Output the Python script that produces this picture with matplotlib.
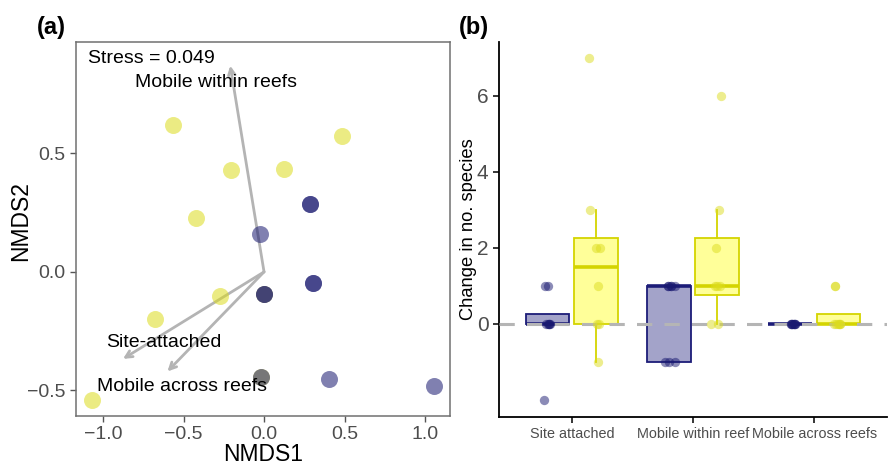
import matplotlib.pyplot as plt

plt.rcParams['font.family'] = ['Liberation Sans', 'DejaVu Sans']

# ---- panel (a): NMDS site scores ----
nmds1 = [-0.565, 0.485, -0.205, 0.124, -0.42, -0.275, -0.677, -1.068, 0.0, -0.02,
         0.286, 0.286, -0.025, 0.303, 0.303, 0.0, 0.0, -0.02, 0.405, 1.056]
nmds2 = [0.62, 0.574, 0.43, 0.434, 0.228, -0.1, -0.2, -0.54, -0.092, -0.443,
         0.288, 0.288, 0.16, -0.047, -0.047, -0.092, -0.092, -0.443, -0.451, -0.481]
site_group = ['yellow'] * 10 + ['blue'] * 10

# fitted vectors
vec_names = ['Mobile within reefs', 'Site-attached', 'Mobile across reefs']
vec_x = [-0.21, -0.876, -0.60]
vec_y = [0.87, -0.367, -0.42]
stress = 0.049

# ---- panel (b): change in number of species ----
categories = ['Site attached', 'Mobile within reef', 'Mobile across reefs']
blue_vals = [[-2, 0, 0, 0, 0, 0, 1, 1],
             [-1, -1, -1, 1, 1, 1, 1, 1],
             [0, 0, 0, 0, 0, 0, 0, 0]]
yellow_vals = [[-1, 0, 0, 1, 2, 2, 3, 7],
               [0, 0, 1, 1, 1, 2, 3, 6],
               [0, 0, 0, 0, 0, 0, 1, 1]]
# jitter offsets
blue_jit = [[-0.025, 0.0, 0.01, 0.02, -0.01, 0.015, -0.022, 0.0],
            [-0.035, 0.0, 0.05, -0.01, 0.02, 0.05, 0.02, -0.01],
            [0.01, 0.04, 0.02, 0.03, 0.01, 0.04, 0.02, 0.03]]
yellow_jit = [[0.02, 0.01, 0.025, 0.02, 0.0, 0.03, -0.05, -0.06],
              [-0.055, 0.01, -0.016, 0.025, 0.0, -0.008, 0.016, 0.03],
              [-0.037, 0.012, 0.0, -0.02, 0.01, 0.005, -0.03, -0.03]]

colors = {'blue': '#191970', 'yellow': '#dcdc1e'}

fig = plt.figure(figsize=(8.9, 4.66), dpi=100)

# ================= (a) =================
ax1 = fig.add_axes([0.0854, 0.1073, 0.4202, 0.8026])
for name, vx, vy in zip(vec_names, vec_x, vec_y):
    ax1.annotate('', xy=(vx, vy), xytext=(0, 0),
                 arrowprops=dict(arrowstyle='->', color='#b4b4b4', lw=2,
                                 mutation_scale=12, shrinkA=0, shrinkB=0),
                 zorder=1)
for x, y, g in zip(nmds1, nmds2, site_group):
    ax1.scatter(x, y, s=150, color=colors[g], alpha=0.55, linewidths=0, zorder=2)

ax1.text(-1.093, 0.899, 'Stress = %.3f' % stress, fontsize=14, va='center', ha='left', zorder=3)
ax1.text(-0.30, 0.80, vec_names[0], fontsize=14, ha='center', va='center', zorder=3)
ax1.text(-0.62, -0.30, vec_names[1], fontsize=14, ha='center', va='center', zorder=3)
ax1.text(-0.51, -0.485, vec_names[2], fontsize=14, ha='center', va='center', zorder=3)

ax1.set_xlim(-1.168, 1.155)
ax1.set_ylim(-0.608, 0.97)
ax1.set_xticks([-1.0, -0.5, 0.0, 0.5, 1.0])
ax1.set_yticks([-0.5, 0.0, 0.5])
ax1.set_xlabel('NMDS1', fontsize=16.5, labelpad=0)
ax1.set_ylabel('NMDS2', fontsize=16.5)
ax1.yaxis.set_label_coords(-0.118, 0.52)
ax1.tick_params(labelsize=14, labelcolor='#4d4d4d', color='#555555', length=4, width=1)
for sp in ax1.spines.values():
    sp.set_color('#707070')
    sp.set_linewidth(1.1)

# ================= (b) =================
ax2 = fig.add_axes([0.5607, 0.1052, 0.4359, 0.8047])
pos = list(range(1, len(categories) + 1))
box_specs = [(blue_vals, blue_jit, -0.2, '#a3a3c9', '#1c1c78', colors['blue']),
             (yellow_vals, yellow_jit, 0.2, '#ffff99', '#d4d400', colors['yellow'])]
for vals, jit, off, fill, edge, pc in box_specs:
    p = [c + off for c in pos]
    ax2.boxplot(vals, positions=p, widths=0.36, patch_artist=True, showfliers=False,
                showcaps=False, manage_ticks=False,
                boxprops=dict(facecolor=fill, edgecolor=edge, linewidth=1.3),
                medianprops=dict(color=edge, linewidth=2.6, solid_capstyle='butt'),
                whiskerprops=dict(color=edge, linewidth=1.3), zorder=2)
    for c, v, j in zip(p, vals, jit):
        ax2.scatter([c + jj for jj in j], v, s=45, color=pc, alpha=0.5,
                    linewidths=0, zorder=4)

ax2.axhline(0, color='#b5b5b5', lw=2.2, dashes=(5, 4), zorder=3)

ax2.set_xlim(0.4, 3.6)
ax2.set_ylim(-2.45, 7.42)
ax2.set_xticks(pos)
ax2.set_xticklabels(categories)
ax2.set_yticks([0, 2, 4, 6])
ax2.set_ylabel('Change in no. species', fontsize=13.2, labelpad=0)
ax2.tick_params(axis='y', labelsize=15, labelcolor='#4d4d4d', length=4, width=1.1)
ax2.tick_params(axis='x', labelsize=10.4, labelcolor='#4d4d4d', length=4, width=1.1)
ax2.spines['top'].set_visible(False)
ax2.spines['right'].set_visible(False)
ax2.spines['left'].set_linewidth(1.3)
ax2.spines['bottom'].set_linewidth(1.3)

fig.text(0.041, 0.94, '(a)', fontsize=17, fontweight='bold', va='center')
fig.text(0.516, 0.94, '(b)', fontsize=17, fontweight='bold', va='center')

fig.savefig('out.png', dpi=100)
